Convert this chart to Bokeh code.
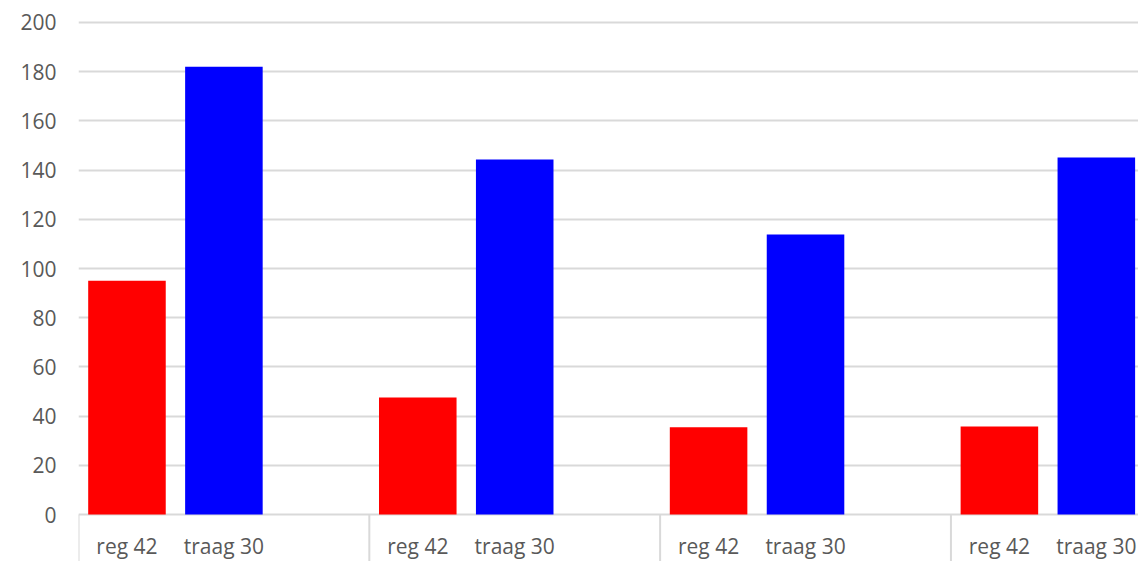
from bokeh.plotting import figure
from bokeh.models import Range1d, FixedTicker, ColumnDataSource
from bokeh.core.properties import value
from bokeh.embed import file_html
from bokeh.resources import INLINE

# ---- data ----
groups = ["1", "2", "3", "4"]
series = ["reg 42", "traag 30"]
reg_42 = [95, 47.6, 35.5, 35.8]
traag_30 = [182, 144.3, 113.8, 145.1]
y_ticks = [0, 20, 40, 60, 80, 100, 120, 140, 160, 180, 200]

colors = ["#ff0000", "#0000ff"]
FONT = "Open Sans"

# Each category group has three slots; bars occupy the first two
slot = 1.0 / 3.0
bar_w = slot * 0.8
y_start, y_end = -19.1, 208.94

p = figure(width=1138, height=561, output_backend="svg", toolbar_location=None,
           x_range=Range1d(0, 3.645), y_range=Range1d(y_start, y_end),
           x_axis_location=None, min_border_left=78, min_border_right=0,
           min_border_top=0, min_border_bottom=0)
p.outline_line_color = None
p.background_fill_color = "white"
p.border_fill_color = "white"

ticker = FixedTicker(ticks=y_ticks)
p.yaxis.ticker = ticker
p.yaxis.axis_line_color = None
p.yaxis.major_tick_line_color = None
p.yaxis.minor_tick_line_color = None
p.yaxis.major_tick_out = 0
p.yaxis.major_label_standoff = 22
p.yaxis.major_label_text_font = FONT
p.yaxis.major_label_text_font_size = "21px"
p.yaxis.major_label_text_color = "#595959"

p.xgrid.visible = False
p.ygrid.ticker = ticker
p.ygrid.grid_line_color = "#d9d9d9"
p.ygrid.grid_line_width = 2

# group separators below the axis
bounds = [float(i) for i in range(len(groups))]
p.segment(x0=bounds, y0=[0] * len(bounds), x1=bounds, y1=[y_start] * len(bounds),
          line_color="#d9d9d9", line_width=2)

label_x, label_t = [], []
for si, (name, vals) in enumerate(zip(series, [reg_42, traag_30])):
    xs = [i + slot * (si + 0.5) for i in range(len(groups))]
    src = ColumnDataSource(dict(x=xs, top=vals))
    p.vbar(x="x", top="top", bottom=0, width=bar_w, source=src,
           fill_color=colors[si], line_color=None)
    label_x += xs
    label_t += [name] * len(xs)

p.text(x=label_x, y=[-12.8] * len(label_x), text=label_t,
       text_font=value(FONT), text_font_size="21px", text_color="#595959",
       text_align="center", text_baseline="middle")

open("out.html", "w").write(file_html(p, INLINE))
